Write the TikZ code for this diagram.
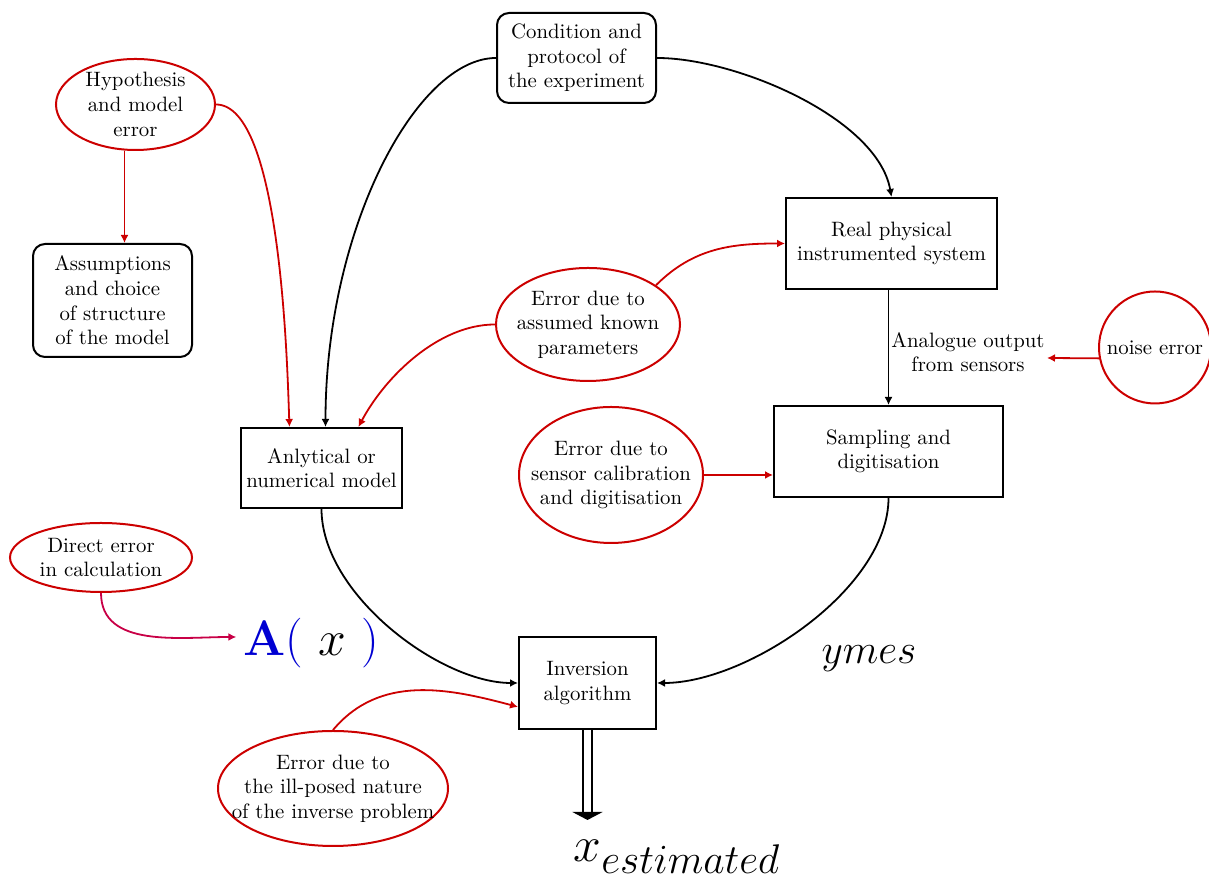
\documentclass[tikz,border=0pt]{standalone}
\usetikzlibrary{shapes.geometric,arrows.meta,calc}
\definecolor{errred}{RGB}{204,0,0}
\definecolor{crim}{RGB}{200,0,70}
\definecolor{ablue}{RGB}{0,0,210}
\tikzset{
  every node/.style={font=\fontsize{10.4}{12.3}\selectfont},
  box/.style={draw, line width=1pt, align=center, inner sep=1.5pt},
  rbox/.style={box, rounded corners=6pt},
  ell/.style={draw=errred, line width=1pt, ellipse, inner sep=0pt},
  edge/.style={line width=0.9pt, -{Latex[length=4pt,width=4pt]}},
  redge/.style={edge, errred},
}
\newcommand{\ellnode}[5]{% name, pos, w, h, text
  \node[ell, minimum width=#3, minimum height=#4,
        label={[align=center]center:{#5}}] (#1) at #2 {};}
\begin{document}
\begin{tikzpicture}[x=0.5pt,y=0.5pt]
\useasboundingbox (0,0) rectangle (1209,881);

% black boxes
\node[rbox, minimum width=79.5pt, minimum height=45pt] (cond) at (576.5,823)
  {Condition and\\protocol of\\the experiment};
\node[rbox, minimum width=79.5pt, minimum height=56.5pt] (assump) at (112.5,580.5)
  {Assumptions\\and choice\\of structure\\of the model};
\node[box, minimum width=105.5pt, minimum height=45.5pt] (real) at (891.5,637.5)
  {Real physical\\instrumented system};
\node[box, minimum width=114.5pt, minimum height=45.5pt] (samp) at (888.5,429.5)
  {Sampling and\\digitisation};
\node[box, minimum width=80.5pt, minimum height=40pt] (model) at (321.5,413)
  {Anlytical or\\numerical model};
\node[box, minimum width=68.5pt, minimum height=46pt] (inv) at (587.5,198)
  {Inversion\\algorithm};

% red ellipses
\ellnode{hyp}{(135.5,776.5)}{79.5pt}{45.5pt}{Hypothesis\\and model\\error}
\ellnode{epar}{(588,556.5)}{92pt}{56.5pt}{Error due to\\assumed known\\parameters}
\ellnode{esen}{(611,406)}{92pt}{68pt}{Error due to\\sensor calibration\\and digitisation}
\ellnode{direct}{(101,323.5)}{91pt}{34.5pt}{Direct error\\in calculation}
\ellnode{ill}{(333,92.5)}{115pt}{57.5pt}{Error due to\\the ill-posed nature\\of the inverse problem}
\node[draw=errred, line width=1pt, circle, minimum size=56pt, inner sep=0pt] (noise) at (1155,533.5) {noise error};

% free texts
\node[align=center] (analog) at (968,529) {Analogue output\\from sensors};
\node (Ax) at (311,238) {\Huge\color{ablue}$\mathbf{A}$( {\color{black}$x$} )};
\node (ymes) at (869,222) {\huge $ymes$};
\coordinate (na) at (1047,523);
\coordinate (xe) at (587.5,61);
\node (xest) at (677,24) {\Huge $x_{estimated}$};

% black connectors
\draw[edge] (cond.west) to[out=180,in=90,out looseness=0.5,in looseness=1.25] ([xshift=2pt]model.north);
\draw[edge] (cond.east) to[out=0,in=100,looseness=0.75] (real.north);
\draw[edge] (samp.north |- real.south) -- (samp.north);
\draw[edge] (model.south) to[out=-90,in=180,out looseness=0.83,in looseness=0.76] (inv.west);
\draw[edge] (samp.south) to[out=-90,in=0,looseness=0.78] (inv.east);
\draw[line width=0.9pt, double, double distance=3.5pt, -{Triangle[length=4pt,width=15pt]}] (inv.south) -- (xe);

% red connectors
\draw[redge] (hyp.east) to[out=0,in=92,looseness=0.5] (model.128);
\draw[redge] ([xshift=-5.5pt]hyp.south) -- ([xshift=-5.5pt]hyp.south |- assump.north);
\draw[redge] (epar.west) to[out=180,in=62,looseness=0.85] (model.48);
\draw[redge] (epar.30) to[out=45,in=180] (real.west);
\draw[redge] (esen.east) -- (esen.east -| samp.west);
\draw[redge] (noise.191) -- (na);
\draw[redge] (ill.north) to[out=50,in=165] (inv.199);
\draw[edge, crim] (direct.south) to[out=-90,in=180] ([yshift=3pt]Ax.west);
\end{tikzpicture}
\end{document}
